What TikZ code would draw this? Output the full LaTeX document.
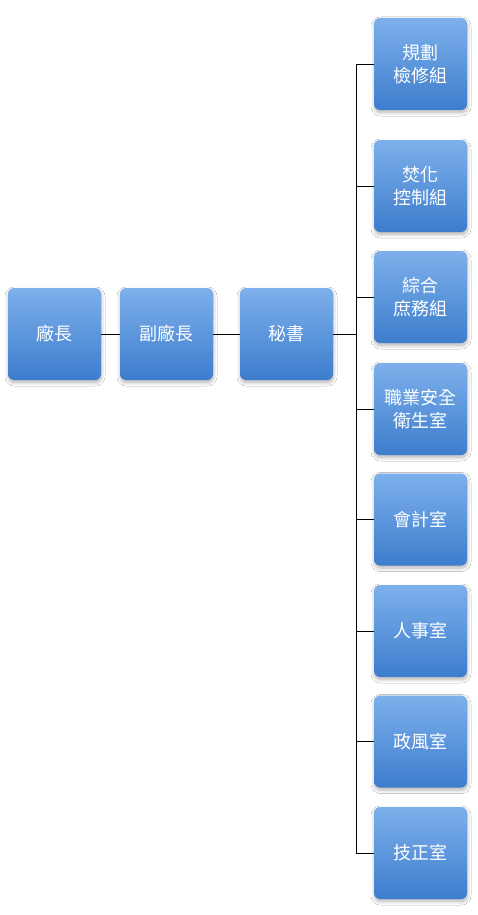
\documentclass[tikz,border=0pt]{standalone}
\usepackage{fontspec}
\newfontfamily\cjk{Noto Sans CJK TC}
\usetikzlibrary{shadows.blur}
\definecolor{boxtop}{HTML}{7DB0EB}
\definecolor{boxmid}{HTML}{4B8CDB}
\definecolor{boxbot}{HTML}{3D7DCD}
\tikzset{
  unitbox/.style={minimum width=93pt, minimum height=92pt, inner sep=0pt,
    rounded corners=6pt, top color=boxtop, middle color=boxmid, bottom color=boxbot,
    text=white, align=center, font=\cjk\fontsize{18}{23}\selectfont,
    blur shadow={shadow xshift=0.5pt, shadow yshift=-2.5pt, shadow blur steps=8, shadow blur radius=3.5pt, shadow opacity=30}},
  link/.style={draw=black, line width=0.9pt}
}
\begin{document}
\begin{tikzpicture}[x=1pt,y=-1pt]
\fill[white] (0,0) rectangle (478,915);
\useasboundingbox (0,0) rectangle (478,915);
\node[unitbox] (c) at (54.5,334) {廠長};
\node[unitbox] (v) at (166.5,334) {副廠長};
\node[unitbox] (s) at (286.5,334) {秘書};
\node[unitbox] (r1) at (420.5,64) {規劃\\檢修組};
\node[unitbox] (r2) at (420.5,186) {焚化\\控制組};
\node[unitbox] (r3) at (420.5,297) {綜合\\庶務組};
\node[unitbox] (r4) at (420.5,409) {職業安全\\衛生室};
\node[unitbox] (r5) at (420.5,519.5) {會計室};
\node[unitbox] (r6) at (420.5,631) {人事室};
\node[unitbox] (r7) at (420.5,741.5) {政風室};
\node[unitbox] (r8) at (420.5,853) {技正室};
\coordinate (bus) at (356,0);
\draw[link] (c.east) -- (v.west);
\draw[link] (v.east) -- (s.west);
\draw[link] (s.east) -- (s.east -| bus);
\draw[link] (bus |- r1.west) -- (bus |- r8.west);
\foreach \i in {1,...,8} {
  \draw[link] (bus |- r\i.west) -- (r\i.west);
}
\end{tikzpicture}
\end{document}
